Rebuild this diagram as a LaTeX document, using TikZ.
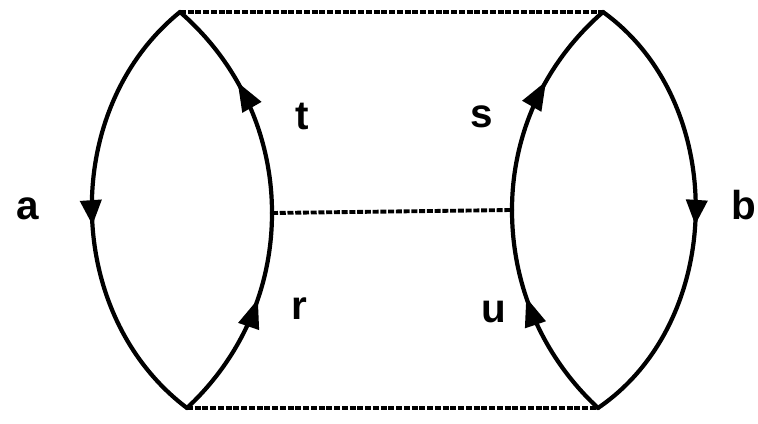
\documentclass[tikz,border=0pt]{standalone}
\usepackage{fontspec}
\setmainfont{Liberation Sans}
\usetikzlibrary{arrows.meta,decorations.markings}

\begin{document}
\begin{tikzpicture}[x=0.02cm,y=0.02cm]
    \tikzstyle{line} = [line width=2.4pt, line cap=round, line join=round]
    \tikzstyle{link} = [line width=2.2pt, dash pattern=on 0.12cm off 0.035cm]
    \tikzstyle{flowdown} = [line, postaction={decorate}, decoration={markings, mark=at position 0.53 with {\arrow{Triangle[length=0.5cm,width=0.42cm]}}}]
    \tikzstyle{flowup} = [line, postaction={decorate}, decoration={markings, mark=at position 0.6 with {\arrow{Triangle[length=0.58cm,width=0.42cm]}}}]
    \tikzstyle{lbl} = [anchor=base, inner sep=0pt, font=\fontsize{23}{23}\selectfont\bfseries]

    \useasboundingbox (0,0) rectangle (758,423);

    % corners of the two lenses
    \coordinate (lt) at (180,411);
    \coordinate (lb) at (187,15);
    \coordinate (lm) at (272,210);
    \coordinate (rt) at (603,411);
    \coordinate (rb) at (598,15);
    \coordinate (rm) at (512,213);

    \draw [flowdown] (lt) to[bend right=52] (lb);
    \draw [flowup] (lb) to[out=43, in=-90, looseness=0.9] (lm);
    \draw [flowup] (lm) to[out=90, in=-41, looseness=0.9] (lt);

    \draw [flowup] (rb) to[out=137, in=-90, looseness=0.9] (rm);
    \draw [flowup] (rm) to[out=90, in=-139, looseness=0.9] (rt);
    \draw [flowdown] (rt) to[bend left=55] (rb);

    \draw [link] (lt) -- (rt);
    \draw [link] (lm) -- (rm);
    \draw [link] (lb) -- (rb);

    \node (a) [lbl] at (28,203) {a};
    \node (t) [lbl] at (302,293) {t};
    \node (r) [lbl] at (299,103) {r};
    \node (s) [lbl] at (482,295) {s};
    \node (u) [lbl] at (494,100) {u};
    \node (b) [lbl, anchor=base east] at (757,203) {b};
\end{tikzpicture}
\end{document}
